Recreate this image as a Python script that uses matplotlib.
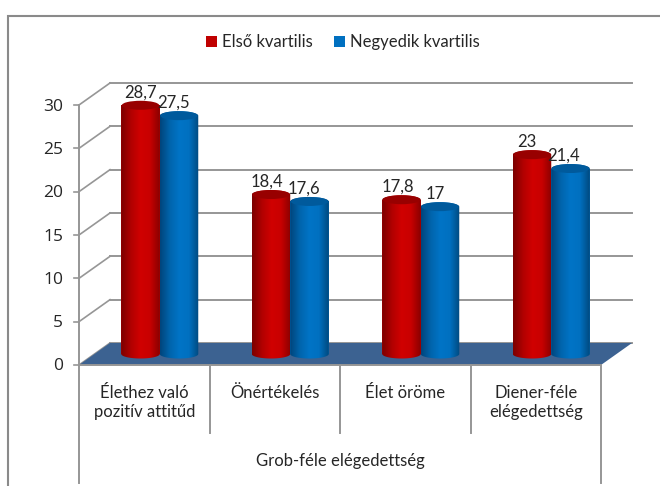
import matplotlib
matplotlib.use("Agg")
import matplotlib.pyplot as plt
import numpy as np
from matplotlib.colors import LinearSegmentedColormap
from matplotlib.patches import Ellipse, Polygon, Rectangle

categories = ["Élethez való\npozitív attitűd", "Önértékelés", "Élet öröme", "Diener-féle\nelégedettség"]
group_label = "Grob-féle elégedettség"
series_names = ["Első kvartilis", "Negyedik kvartilis"]
first_q = [28.7, 18.4, 17.8, 23]
fourth_q = [27.5, 17.6, 17, 21.4]
y_ticks = [0, 5, 10, 15, 20, 25, 30]

W, H = 660, 486
X0, X1 = 79, 601
Y0, Y30 = 365, 105
PX_X = (X1 - X0) / 4  # pixels per category
PX_Y = (Y0 - Y30) / 30  # pixels per unit
DX = 31 / PX_X
DY = 22 / PX_Y
BASE = 11 / PX_Y  # where the cylinders stand on the floor
BAR_W = 38.5 / PX_X
ELL_H = 9 / PX_Y
GRID = "#969696"
TXT = "#262626"

plt.rcParams["font.family"] = ["Lato", "DejaVu Sans"]

fig = plt.figure(figsize=(W / 100, H / 100), dpi=100)
ax = fig.add_axes([X0 / W, 1 - Y0 / H, (X1 - X0) / W, (Y0 - Y30) / H])
ax.set_xlim(0, 4)
ax.set_ylim(0, 30)
ax.axis("off")

# outer frame, runs off the right and bottom edge
fig.add_artist(Rectangle((8 / W, -0.1), 1, 1.1 - 16 / H, transform=fig.transFigure,
                         fill=False, ec="#8a8a8a", lw=1.5))

# walls
for t in y_ticks:
    ax.plot([0, DX], [t, t + DY], color=GRID, lw=1.2, clip_on=False, zorder=1)
    ax.plot([DX, 4 + DX], [t + DY, t + DY], color=GRID, lw=1.4, clip_on=False, zorder=1)
    ax.plot([-5 / PX_X, 0], [t, t], color=GRID, lw=1.2, clip_on=False, zorder=1)
    ax.text(-16 / PX_X, t - 1.5 / PX_Y, str(t), ha="right", va="center", fontsize=12.5,
            family=["Open Sans", "DejaVu Sans"], color=TXT)

# floor
ax.add_patch(Polygon([(0, 0), (4, 0), (4 + DX, DY), (DX, DY)], closed=True,
                     fc="#3c6291", ec="none", clip_on=False, zorder=2))

# axis lines and the two level category axis
low1 = -(433 - Y0) / PX_Y
low2 = -(483 - Y0) / PX_Y
ax.plot([0, 4], [0, 0], color=GRID, lw=1.4, clip_on=False, zorder=3)
ax.plot([0, 0], [low2, 30], color=GRID, lw=1.4, clip_on=False, zorder=3)
ax.plot([4, 4], [low2, 0], color=GRID, lw=1.4, clip_on=False, zorder=3)
for i in range(1, 4):
    ax.plot([i, i], [low1, 0], color=GRID, lw=1.4, clip_on=False, zorder=3)
for i, c in enumerate(categories):
    ax.text(i + 0.5, -(20 / PX_Y), c, ha="center", va="top", fontsize=12, color=TXT,
            linespacing=1.25)
ax.text(2, -(461 - Y0) / PX_Y, group_label, ha="center", va="center", fontsize=12, color=TXT)


def cylinder(x, v, shades, top, z):
    cmap = LinearSegmentedColormap.from_list("c", shades)
    left, right = x - BAR_W / 2, x + BAR_W / 2
    ang = np.linspace(0, np.pi, 40)
    xs = x + np.cos(ang) * BAR_W / 2
    dy = np.sin(ang) * ELL_H / 2
    outline = np.vstack([np.c_[xs, BASE + v + dy], np.c_[xs[::-1], BASE - dy[::-1]]])
    clip = Polygon(outline, closed=True, transform=ax.transData)
    im = ax.imshow(np.linspace(0, 1, 64)[None, :], extent=(left, right, BASE - ELL_H, BASE + v + ELL_H),
                   cmap=cmap, aspect="auto", zorder=z, interpolation="bilinear")
    im.set_clip_path(clip)
    im.set_clip_on(True)
    ax.add_patch(Ellipse((x, BASE + v), BAR_W * 0.97, ELL_H, fc=top, ec="none", zorder=z + 0.1, clip_on=False))


RED = ["#7c0000", "#b00000", "#d00000", "#c80000", "#8a0000"]
BLUE = ["#00457c", "#0064ac", "#0074c6", "#0070c0", "#004a80"]
handles = []
label_dx = [[0, -4, -4, -5], [-6, -6, -5, -7]]
for s, (vals, shades, top, flat) in enumerate([(first_q, RED, "#980000", "#c00000"),
                                                (fourth_q, BLUE, "#005a9c", "#0070c0")]):
    xs = [i + 0.5 + DX / 2 + (s - 0.5) * BAR_W for i in range(4)]
    bars = ax.bar(xs, vals, BAR_W, bottom=BASE, color=flat, zorder=4 + s, clip_on=False,
                  label=series_names[s])
    handles.append(bars)
    for i, (x, v) in enumerate(zip(xs, vals)):
        cylinder(x, v, shades, top, 4.5 + s)
        ax.annotate(f"{v:g}".replace(".", ","), (x, BASE + v), xytext=(label_dx[s][i] * 0.72, 13 * 0.72),
                    textcoords="offset points", ha="center", va="center", fontsize=12,
                    color=TXT, zorder=8, annotation_clip=False)

ax.set_xlim(0, 4)
ax.set_ylim(0, 30)

fig.legend(handles=handles, loc="center", bbox_to_anchor=(343 / W, 1 - 42 / H), ncol=2, frameon=False,
           fontsize=12, handlelength=0.65, handleheight=0.65, handletextpad=0.3, columnspacing=1.3,
           labelcolor=TXT)

fig.savefig("out.png", dpi=100)
